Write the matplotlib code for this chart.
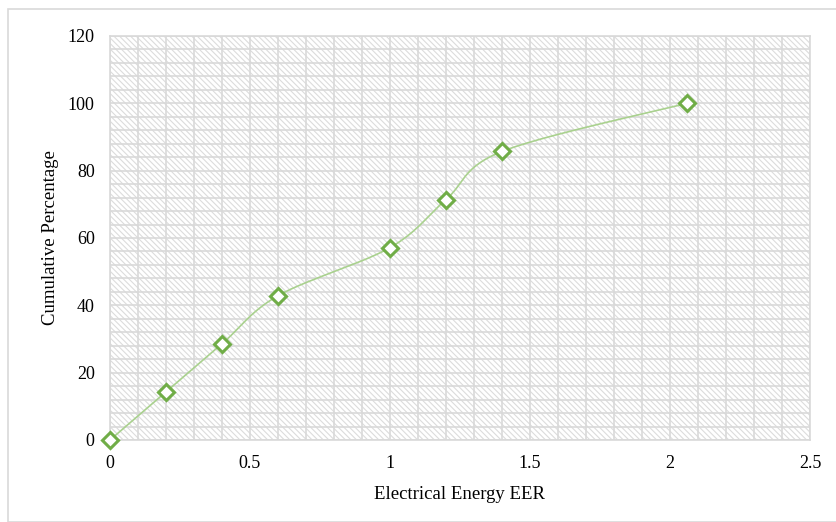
import numpy as np
import matplotlib.pyplot as plt
from matplotlib.patches import Rectangle

plt.rcParams['font.family'] = ['Liberation Serif', 'DejaVu Serif']
plt.rcParams['hatch.linewidth'] = 0.8

eer = [0, 0.2, 0.4, 0.6, 1.0, 1.2, 1.4, 2.06]
cum_pct = [0, 14.29, 28.57, 42.86, 57.14, 71.43, 85.71, 100]
x_ticks = [0, 0.5, 1, 1.5, 2, 2.5]
y_ticks = [0, 20, 40, 60, 80, 100, 120]


def smooth(xs, ys, n=30):
    # catmull-rom style bezier, like the spreadsheet "smoothed line"
    xs, ys = np.asarray(xs, float), np.asarray(ys, float)
    px = np.concatenate([[xs[0]], xs, [xs[-1]]])
    py = np.concatenate([[ys[0]], ys, [ys[-1]]])
    ox, oy = [], []
    t = np.linspace(0, 1, n)
    for i in range(1, len(px) - 2):
        p0 = np.array([px[i], py[i]])
        p3 = np.array([px[i + 1], py[i + 1]])
        p1 = p0 + (np.array([px[i + 1], py[i + 1]]) - np.array([px[i - 1], py[i - 1]])) / 6
        p2 = p3 - (np.array([px[i + 2], py[i + 2]]) - np.array([px[i], py[i]])) / 6
        b = ((1 - t) ** 3)[:, None] * p0 + (3 * (1 - t) ** 2 * t)[:, None] * p1 \
            + (3 * (1 - t) * t ** 2)[:, None] * p2 + (t ** 3)[:, None] * p3
        ox.extend(b[:, 0])
        oy.extend(b[:, 1])
    return ox, oy


fig = plt.figure(figsize=(8.37, 5.22), dpi=100)
fig.patches.append(Rectangle((0.009, 0.0), 0.991, 0.982, transform=fig.transFigure,
                             fill=False, edgecolor='#d9d9d9', linewidth=1.2))
ax = fig.add_axes([110 / 837, 1 - 440 / 522, 700 / 837, 404 / 522])

ax.add_patch(Rectangle((0, 0), 2.5, 120, facecolor='white', edgecolor='#dcdcdc',
                       hatch='\\\\\\\\\\\\', linewidth=0, zorder=0))

ax.set_xlim(0, 2.5)
ax.set_ylim(0, 120)
ax.set_xticks(x_ticks)
ax.set_xticklabels(['0', '0.5', '1', '1.5', '2', '2.5'])
ax.set_yticks(y_ticks)
ax.set_xticks(np.arange(0, 2.51, 0.1), minor=True)
ax.set_yticks(np.arange(0, 121, 4), minor=True)
ax.grid(True, which='both', color='#d9d9d9', linewidth=1.2, zorder=1)
ax.set_axisbelow(True)
ax.tick_params(which='both', length=0, labelsize=13)
ax.tick_params(axis='x', pad=11)
ax.tick_params(axis='y', pad=11)
for s in ax.spines.values():
    s.set_color('#d9d9d9')
    s.set_linewidth(1.2)

sx, sy = smooth(eer, cum_pct)
ax.plot(sx, sy, color='#a9d18e', linewidth=1.2, zorder=3, clip_on=False)
ax.plot(eer, cum_pct, linestyle='none', marker='D', markersize=8,
        markerfacecolor='white', markeredgecolor='#70ad47', markeredgewidth=2.2,
        zorder=4, clip_on=False)

ax.set_xlabel('Electrical Energy EER', fontsize=13.5, labelpad=10)
ax.set_ylabel('Cumulative Percentage', fontsize=13.5, labelpad=6)

fig.savefig('out.png', dpi=100)
